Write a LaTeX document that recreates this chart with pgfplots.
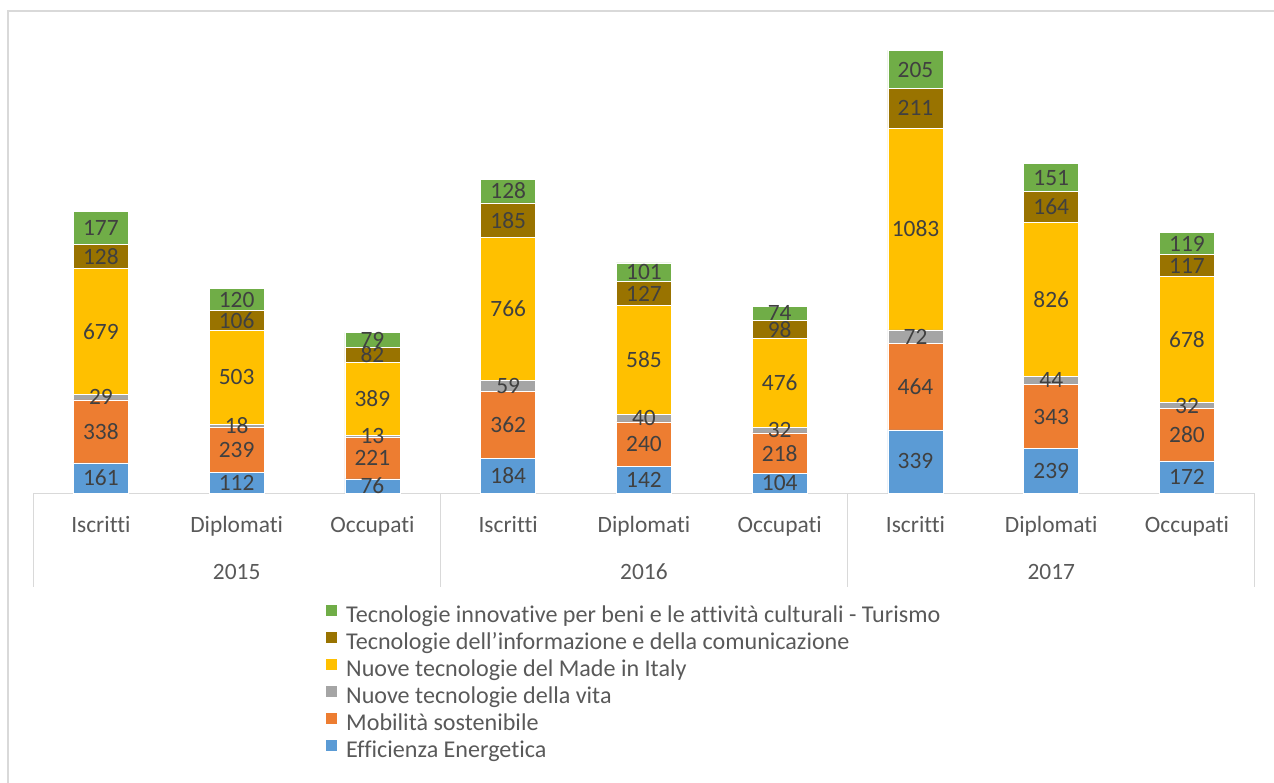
\documentclass[border=0pt]{standalone}
\usepackage{pgfplots}
\pgfplotsset{compat=1.18}
\usepackage{fontspec}
\setmainfont{Carlito}[RawFeature={-liga;-clig;-calt;-dlig}]

\definecolor{cBlue}{HTML}{5B9BD5}
\definecolor{cOrange}{HTML}{ED7D31}
\definecolor{cGray}{HTML}{A5A5A5}
\definecolor{cYellow}{HTML}{FFC000}
\definecolor{cBrown}{HTML}{997300}
\definecolor{cGreen}{HTML}{70AD47}
\definecolor{cText}{HTML}{404040}
\definecolor{cTick}{HTML}{595959}
\definecolor{cLine}{HTML}{D9D9D9}

\begin{document}
\begin{tikzpicture}
\useasboundingbox (0,0) rectangle (1274bp,-783bp);
% chart frame (right and bottom edges fall outside the picture)
\draw[cLine, line width=1.3bp] (8bp,-800bp) -- (8bp,-11bp) -- (1290bp,-11bp);

\begin{axis}[
    at={(33bp,-493bp)}, anchor=south west,
    scale only axis,
    width=1222bp, height=466bp,
    ybar stacked,
    bar width=55bp,
    xmin=-0.5, xmax=8.5,
    ymin=0, ymax=2500,
    axis y line=none,
    axis x line*=bottom,
    x axis line style={cLine, line width=1bp, -},
    xtick={0,...,8},
    xticklabels={Iscritti,Diplomati,Occupati,Iscritti,Diplomati,Occupati,Iscritti,Diplomati,Occupati},
    major tick length=0pt,
    xticklabel style={font=\fontsize{23.5}{28}\selectfont, text=cTick, anchor=base, yshift=-39.5bp, inner sep=0pt},
    /pgf/number format/assume math mode=true,
    /pgf/number format/1000 sep={},
    point meta=rawy,
    nodes near coords,
    every node near coord/.append style={
        font=\fontsize{23.5}{28}\selectfont, text=cText, anchor=center,
        inner sep=0pt},
    clip=false,
    reverse legend,
    legend cell align=left,
    legend style={
        at={(0.2398,-0.2392)}, anchor=north west,
        draw=none, fill=none, inner sep=0pt, row sep=0pt,
        font=\fontsize{24.2}{28}\selectfont, text=cTick,
        nodes={inner sep=0pt, text height=18bp, text depth=9bp},
        /tikz/every even column/.append style={column sep=0pt},
        /tikz/every odd column/.append style={column sep=9bp},
    },
    legend image code/.code={\fill[#1, draw=none] (0bp,2bp) rectangle (11bp,13bp);},
]
\addplot+[fill=cBlue, draw=white, line width=0.6bp] coordinates
    {(0,161) (1,112) (2,76) (3,184) (4,142) (5,104) (6,339) (7,239) (8,172)};
\addlegendentry{Efficienza Energetica}
\addplot+[fill=cOrange, draw=white, line width=0.6bp] coordinates
    {(0,338) (1,239) (2,221) (3,362) (4,240) (5,218) (6,464) (7,343) (8,280)};
\addlegendentry{Mobilità sostenibile}
\addplot+[fill=cGray, draw=white, line width=0.6bp] coordinates
    {(0,29) (1,18) (2,13) (3,59) (4,40) (5,32) (6,72) (7,44) (8,32)};
\addlegendentry{Nuove tecnologie della vita}
\addplot+[fill=cYellow, draw=white, line width=0.6bp] coordinates
    {(0,679) (1,503) (2,389) (3,766) (4,585) (5,476) (6,1083) (7,826) (8,678)};
\addlegendentry{Nuove tecnologie del Made in Italy}
\addplot+[fill=cBrown, draw=white, line width=0.6bp] coordinates
    {(0,128) (1,106) (2,82) (3,185) (4,127) (5,98) (6,211) (7,164) (8,117)};
\addlegendentry{Tecnologie dell’informazione e della comunicazione}
\addplot+[fill=cGreen, draw=white, line width=0.6bp] coordinates
    {(0,177) (1,120) (2,79) (3,128) (4,101) (5,74) (6,205) (7,151) (8,119)};
\addlegendentry{Tecnologie innovative per beni e le attività culturali - Turismo}

% group separators of the two-level category axis
\draw[cLine, line width=1bp] (axis cs:-0.5,0) -- ++(0bp,-94bp);
\draw[cLine, line width=1bp] (axis cs:2.5,0) -- ++(0bp,-94bp);
\draw[cLine, line width=1bp] (axis cs:5.5,0) -- ++(0bp,-94bp);
\draw[cLine, line width=1bp] (axis cs:8.5,0) -- ++(0bp,-94bp);
\node[font=\fontsize{23.5}{28}\selectfont, text=cTick, anchor=base, inner sep=0pt]
    at (axis cs:1,0) [yshift=-86.5bp] {2015};
\node[font=\fontsize{23.5}{28}\selectfont, text=cTick, anchor=base, inner sep=0pt]
    at (axis cs:4,0) [yshift=-86.5bp] {2016};
\node[font=\fontsize{23.5}{28}\selectfont, text=cTick, anchor=base, inner sep=0pt]
    at (axis cs:7,0) [yshift=-86.5bp] {2017};
\end{axis}
\end{tikzpicture}
\end{document}
